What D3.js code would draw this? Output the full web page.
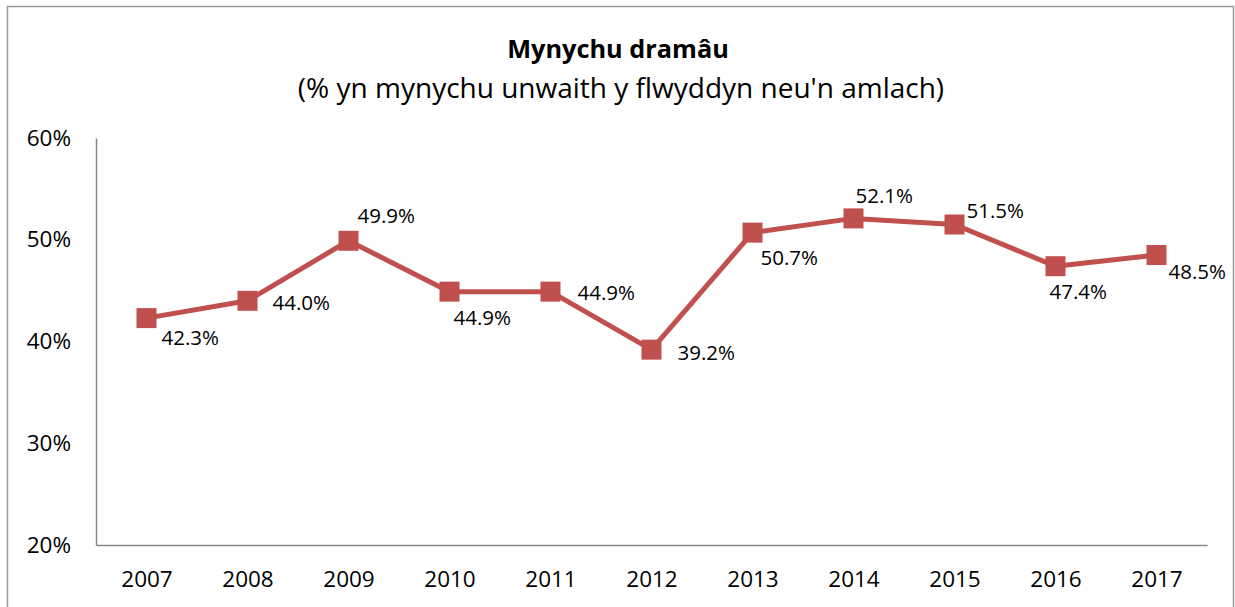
<!DOCTYPE html>
<html>
<head>
<meta charset="utf-8">
<script src="https://cdn.jsdelivr.net/npm/d3@7"></script>
<style>
  body { margin: 0; background: #fff; }
  text { font-family: "Open Sans", sans-serif; fill: #000; }
</style>
</head>
<body>
<div class="chart"></div>
<script>

// Data
//
var years = ["2007", "2008", "2009", "2010", "2011", "2012", "2013", "2014", "2015", "2016", "2017"];
var values = [42.3, 44.0, 49.9, 44.9, 44.9, 39.2, 50.7, 52.1, 51.5, 47.4, 48.5];
var yTicks = [20, 30, 40, 50, 60];

var title = "Mynychu dramâu";
var subtitle = "(% yn mynychu unwaith y flwyddyn neu'n amlach)";

var W = 1235, H = 607;
var margin = {top: 138, right: 28, bottom: 62, left: 96};
var width = W - margin.left - margin.right,
    height = H - margin.top - margin.bottom;

var red = "#c0504d";

var svg = d3.select(".chart")
	.append("svg")
	.attr("width", W)
	.attr("height", H);

// chart border
svg.append("rect")
	.attr("x", 7.5)
	.attr("y", 6.5)
	.attr("width", 1226)
	.attr("height", 620)
	.attr("fill", "none")
	.attr("stroke", "#9a9a9a")
	.attr("stroke-width", 1.5);

svg.append("text")
	.attr("x", 618)
	.attr("y", 58)
	.attr("text-anchor", "middle")
	.style("font-weight", "bold")
	.style("font-size", "25.3px")
	.text(title);

svg.append("text")
	.attr("x", 621)
	.attr("y", 98)
	.attr("text-anchor", "middle")
	.style("font-size", "28px")
	.text(subtitle);

var g = svg.append("g")
	.attr("transform", "translate(" + margin.left + "," + margin.top + ")");

var x = d3.scalePoint()
	.domain(years)
	.range([0, width])
	.padding(0.5);

var y = d3.scaleLinear()
	.domain([20, 60])
	.range([height, 0]);

// axes
var yAxis = g.append("g")
	.call(d3.axisLeft(y).tickValues(yTicks).tickSize(0).tickPadding(25)
		.tickFormat(function(d) { return d + "%"; }));
yAxis.select(".domain").attr("stroke", "#868686").attr("stroke-width", 1.5);
yAxis.selectAll("text").style("font-size", "22.5px").style("font-family", "Open Sans").attr("fill", "#000");

var xAxis = g.append("g")
	.attr("transform", "translate(0," + height + ")")
	.call(d3.axisBottom(x).tickSize(0).tickPadding(26));
xAxis.select(".domain").attr("stroke", "#868686").attr("stroke-width", 1.5);
xAxis.selectAll("text").style("font-size", "22.5px").style("font-family", "Open Sans").attr("fill", "#000");

// line
var line = d3.line()
	.x(function(d, i) { return x(years[i]); })
	.y(function(d) { return y(d); });

g.append("path")
	.datum(values)
	.attr("fill", "none")
	.attr("stroke", red)
	.attr("stroke-width", 5)
	.attr("stroke-linejoin", "round")
	.attr("d", line);

g.selectAll(".marker")
	.data(values)
	.enter().append("rect")
	.attr("class", "marker")
	.attr("x", function(d, i) { return x(years[i]) - 10; })
	.attr("y", function(d) { return y(d) - 10; })
	.attr("width", 20)
	.attr("height", 20)
	.attr("fill", red);

// label placement, offset from point (text start, text middle)
var labelOffset = [
	[15, 20], [25, 2], [9, -25], [4, 26], [27, 1], [26, 3],
	[8, 25], [2, -23], [12, -14], [-6, 25], [12, 17]
];

g.selectAll(".lbl")
	.data(values)
	.enter().append("text")
	.attr("class", "lbl")
	.attr("x", function(d, i) { return x(years[i]) + labelOffset[i][0]; })
	.attr("y", function(d, i) { return y(d) + labelOffset[i][1]; })
	.attr("dy", "0.36em")
	.style("font-size", "20.5px")
	.text(function(d) { return d.toFixed(1) + "%"; });

</script>
</body>
</html>
